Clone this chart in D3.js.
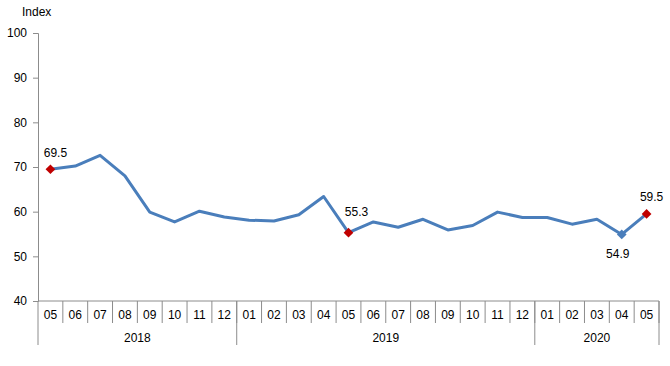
<!DOCTYPE html>
<html>
<head>
<meta charset="utf-8">
<script src="https://cdn.jsdelivr.net/npm/d3@7"></script>
<style>
  html, body { margin: 0; padding: 0; background: #fff; }
  svg { display: block; font-family: "Liberation Sans", Arial, sans-serif; }
</style>
</head>
<body>
<svg id="chart" width="670" height="366"></svg>
<script>
const months = ["05","06","07","08","09","10","11","12",
                "01","02","03","04","05","06","07","08","09","10","11","12",
                "01","02","03","04","05"];
const years = ["2018","2019","2020"];
const yearSpans = [8, 12, 5];
const values = [69.5, 70.2, 72.6, 68.0, 59.9, 57.7, 60.1, 58.8,
                58.1, 57.9, 59.3, 63.4, 55.3, 57.7, 56.5, 58.3, 55.9, 56.9, 59.9, 58.7,
                58.7, 57.2, 58.3, 54.9, 59.5];
const yTicks = [40, 50, 60, 70, 80, 90, 100];
const highlightIdx = [0, 12, 23, 24];
const highlightColors = ["#c00000", "#c00000", "#4a7ebb", "#c00000"];

const svg = d3.select("#chart");
const mLeft = 38, mRight = 659, mTop = 33, mBottom = 301;
const idx = d3.range(values.length);

const x = d3.scaleBand().domain(idx).range([mLeft, mRight]).padding(0);
const y = d3.scaleLinear().domain([40, 100]).range([mBottom, mTop]);
const axisColor = "#8c8c8c";
// label offsets (dx, dy) relative to marker
const labelOffsets = [[5, -12], [8, -17], [-4, 24], [5, -13]];

// Y axis
const yAxis = svg.append("g").attr("transform", `translate(${mLeft},0)`)
  .call(d3.axisLeft(y).tickValues(yTicks).tickSize(5).tickPadding(6));
yAxis.select(".domain").attr("stroke", axisColor);
yAxis.selectAll(".tick line").attr("stroke", axisColor);
yAxis.selectAll(".tick text").attr("fill", "#000").style("font-size", "12px")
  .style("font-family", "Liberation Sans, Arial, sans-serif");

svg.append("text").attr("x", 22).attr("y", 16).text("Index")
  .style("font-size", "12px").attr("fill", "#000");

// X axis baseline
svg.append("line").attr("x1", mLeft).attr("x2", mRight).attr("y1", mBottom).attr("y2", mBottom)
  .attr("stroke", axisColor);

// Month separators and labels
const g = svg.append("g");
idx.forEach(i => {
  g.append("line")
    .attr("x1", x(i) + x.bandwidth()).attr("x2", x(i) + x.bandwidth())
    .attr("y1", mBottom).attr("y2", 323).attr("stroke", axisColor);
  g.append("text").attr("x", x(i) + x.bandwidth() / 2).attr("y", 319)
    .attr("text-anchor", "middle").style("font-size", "12px").text(months[i]);
});

// Year separators and labels
let start = 0;
const yearBounds = [mLeft];
years.forEach((yr, k) => {
  const s = start, e = start + yearSpans[k] - 1;
  const x0 = x(s), x1 = x(e) + x.bandwidth();
  yearBounds.push(x1);
  svg.append("text").attr("x", (x0 + x1) / 2).attr("y", 342)
    .attr("text-anchor", "middle").style("font-size", "12px").text(yr);
  start += yearSpans[k];
});
yearBounds.forEach(b => {
  svg.append("line").attr("x1", b).attr("x2", b).attr("y1", mBottom).attr("y2", 345)
    .attr("stroke", axisColor);
});

// Line
const line = d3.line().x((d, i) => x(i) + x.bandwidth() / 2).y(d => y(d));
svg.append("path").datum(values).attr("d", line)
  .attr("fill", "none").attr("stroke", "#4a7ebb").attr("stroke-width", 3)
  .attr("stroke-linejoin", "round");

// Highlight markers and labels
highlightIdx.forEach((i, k) => {
  const cx = x(i) + x.bandwidth() / 2, cy = y(values[i]);
  svg.append("path").attr("d", d3.symbol(d3.symbolDiamond2, 60)())
    .attr("transform", `translate(${cx},${cy})`).attr("fill", highlightColors[k]);
  svg.append("text").attr("x", cx + labelOffsets[k][0])
    .attr("y", cy + labelOffsets[k][1])
    .attr("text-anchor", "middle").style("font-size", "12px")
    .text(values[i].toFixed(1));
});
</script>
</body>
</html>
